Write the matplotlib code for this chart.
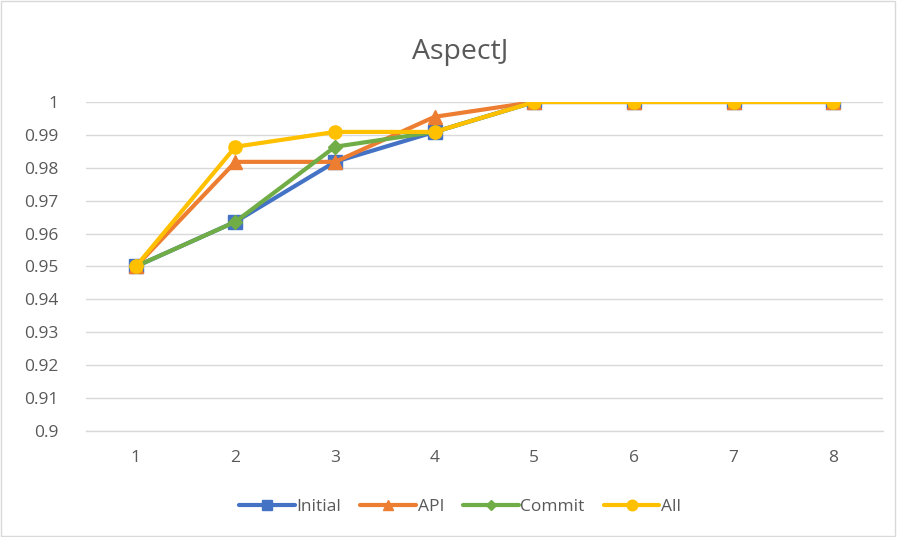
import matplotlib
matplotlib.use("Agg")
import matplotlib.pyplot as plt
from matplotlib.patches import Rectangle

plt.rcParams["font.family"] = ["Open Sans", "DejaVu Sans"]

# values
x_labels = ["1", "2", "3", "4", "5", "6", "7", "8"]
initial = [0.95, 0.9636, 0.9818, 0.9909, 1.0, 1.0, 1.0, 1.0]
api = [0.95, 0.9818, 0.9818, 0.9955, 1.0, 1.0, 1.0, 1.0]
commit = [0.95, 0.9636, 0.9864, 0.9909, 1.0, 1.0, 1.0, 1.0]
all_feats = [0.95, 0.9864, 0.9909, 0.9909, 1.0, 1.0, 1.0, 1.0]
y_ticks = [0.9, 0.91, 0.92, 0.93, 0.94, 0.95, 0.96, 0.97, 0.98, 0.99, 1.0]

series = [
    ("Initial", initial, "#4472C4", "s"),
    ("API", api, "#ED7D31", "^"),
    ("Commit", commit, "#70AD47", "D"),
    ("All", all_feats, "#FFC000", "o"),
]

fig = plt.figure(figsize=(8.97, 5.37), dpi=100)
ax = fig.add_axes([0.0959, 0.1974, 0.8885, 0.6127])

x = list(range(len(x_labels)))
for i, (name, values, color, marker) in enumerate(series):
    ms = 9.5 if marker != "D" else 7
    ax.plot(x, values, color=color, linewidth=3, marker=marker,
            markersize=ms, label=name, zorder=3 + i, solid_capstyle="round")

ax.set_xlim(-0.5, len(x_labels) - 0.5)
ax.set_ylim(0.9, 1.0)
ax.set_xticks(x)
ax.set_xticklabels(x_labels)
ax.set_yticks(y_ticks)
ax.set_yticklabels([f"{v:g}" for v in y_ticks])
ax.tick_params(length=0, labelsize=12.5, colors="#595959", pad=14)
ax.tick_params(axis="y", pad=20)
ax.grid(axis="y", color="#d9d9d9", linewidth=1)
ax.set_axisbelow(True)
for side in ["top", "right", "left"]:
    ax.spines[side].set_visible(False)
ax.spines["bottom"].set_color("#d9d9d9")
ax.spines["bottom"].set_linewidth(1)

fig.text(0.513, 0.903, "AspectJ", ha="center", va="center",
         fontsize=20.5, color="#595959")

fig.legend(loc="center", bbox_to_anchor=(0.513, 0.056), ncol=4, frameon=False,
           fontsize=12.5, labelcolor="#595959", handlelength=3.2,
           handletextpad=0.1, columnspacing=1.1, markerscale=0.8)

fig.patches.append(Rectangle((0.001, 0.002), 0.997, 0.996, transform=fig.transFigure,
                             fill=False, edgecolor="#d9d9d9", linewidth=1))

fig.savefig("out.png", dpi=100)
